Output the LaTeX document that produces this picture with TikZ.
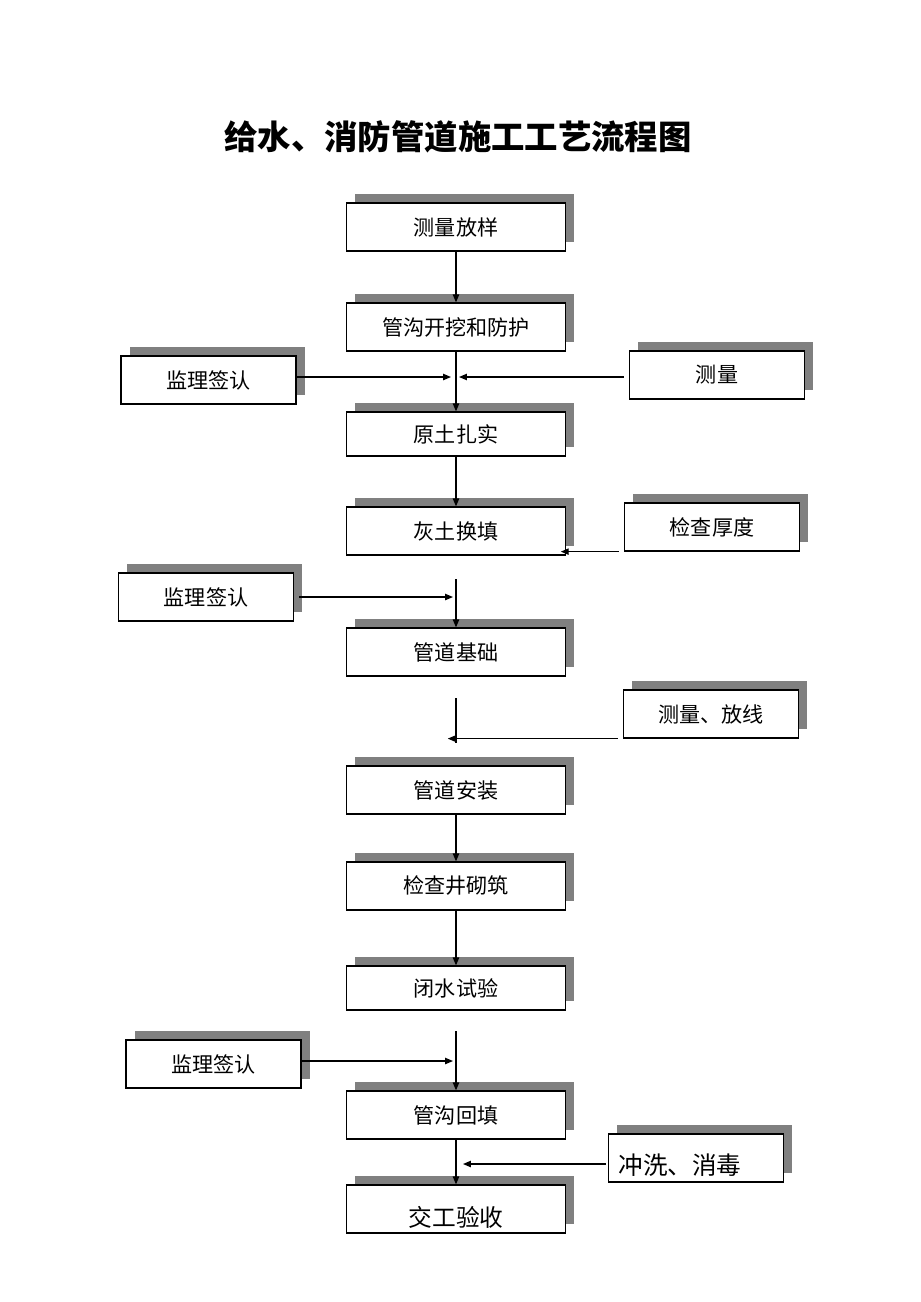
\documentclass[tikz,border=0pt]{standalone}
\usepackage{fontspec}
\setmainfont{Noto Sans CJK SC}
\usetikzlibrary{arrows.meta,shadows}
\definecolor{shadowgray}{RGB}{128,128,128}
\tikzstyle{stage}=[draw, fill=white, line width=0.7pt, minimum width=4.38cm, minimum height=0.96cm, inner sep=0pt, font=\fontsize{12}{14}\selectfont, general shadow={fill=shadowgray, shadow xshift=5.1pt, shadow yshift=5.1pt}]
\tikzstyle{check}=[stage, minimum width=3.5cm]
\tikzstyle{arr}=[-{Triangle[length=4.5pt,width=3.6pt]}, line width=0.7pt]

\begin{document}
\begin{tikzpicture}[x=0.02cm, y=-0.02cm]
  \useasboundingbox (0,0) rectangle (920,1302);
  \node[font=\fontsize{19}{22}\selectfont\bfseries] at (458,137) (title) {给水、消防管道施工工艺流程图};

  % main column
  \node[stage] at (456,227) (b1) {测量放样};
  \node[stage] at (456,327) (b2) {管沟开挖和防护};
  \node[stage, minimum height=0.88cm] at (456,434) (b3) {原土扎实};
  \node[stage] at (456,531) (b4) {灰土换填};
  \node[stage] at (456,652) (b5) {管道基础};
  \node[stage] at (456,790) (b6) {管道安装};
  \node[stage] at (456,886) (b7) {检查井砌筑};
  \node[stage, minimum height=0.88cm] at (456,988) (b8) {闭水试验};
  \node[stage] at (456,1115) (b9) {管沟回填};
  \node[stage, font=\fontsize{13.5}{15}\selectfont] at (456,1209) (b10) {\raisebox{-0.72em}[0pt][0pt]{交工验收}};

  % side boxes
  \node[check] at (208.5,380) (s1) {监理签认};
  \node[check] at (717,375) (m1) {测量};
  \node[check] at (712,527) (t1) {检查厚度};
  \node[check] at (206,597) (s2) {监理签认};
  \node[check] at (711,714) (m2) {测量、放线};
  \node[check] at (213.5,1064) (s3) {监理签认};
  \node[check, font=\fontsize{14}{16}\selectfont, text width=3.1cm, inner xsep=0.2cm, align=left] at (696,1158) (w1) {\raisebox{-0.68em}[0pt][0pt]{冲洗、消毒}};

  % junction points
  \coordinate (j1l) at (451,377);
  \coordinate (j1r) at (459,377);
  \coordinate (c2) at (456,579);
  \coordinate (c2l) at (453,597);
  \coordinate (c3) at (456,698);
  \coordinate (c3e) at (456,743);
  \coordinate (c3l) at (453,740);
  \coordinate (c4) at (456,1031);
  \coordinate (c4l) at (453,1061);
  \coordinate (c5r) at (463,1164);

  \draw[arr] (b1) -- (b2);
  \draw[arr] (b2) -- (b3);
  \draw[arr] (s1.east |- j1l) -- (j1l);
  \draw[arr] ([xshift=-3pt]m1.west |- j1r) -- (j1r);
  \draw[arr] (b3) -- (b4);
  \draw[arr] ([xshift=-3pt]t1.south west) -- ([xshift=-3pt]t1.south west -| b4.east);
  \draw[arr] (c2) -- (b5);
  \draw[arr] ([xshift=3pt]s2.east) -- (c2l);
  \draw[line width=0.7pt] (c3) -- (c3e);
  \draw[arr] ([xshift=-3pt]m2.south west) -- ([xshift=-3pt]m2.south west -| c3l);
  \draw[arr] (b6) -- (b7);
  \draw[arr] (b7) -- (b8);
  \draw[arr] (c4) -- (b9);
  \draw[arr] (s3.east |- c4l) -- (c4l);
  \draw[arr] (b9) -- (b10);
  \draw[arr] ([xshift=-1pt]w1.west |- c5r) -- (c5r);
\end{tikzpicture}
\end{document}
